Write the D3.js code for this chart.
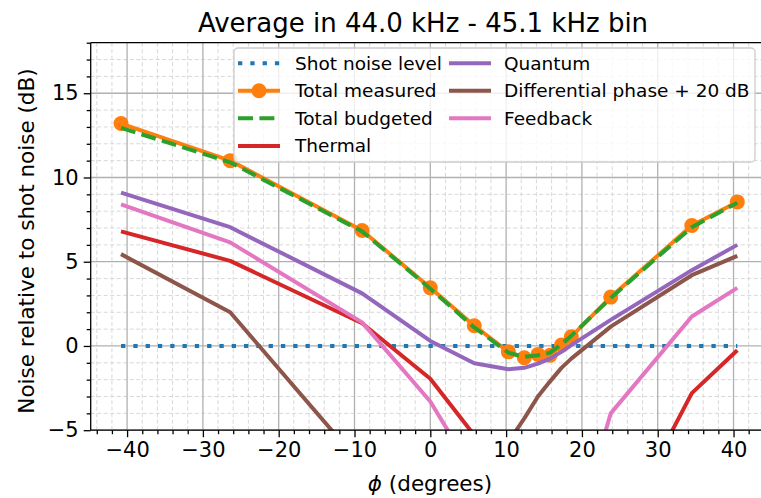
<!DOCTYPE html>
<html><head><meta charset="utf-8">
<script src="https://cdn.jsdelivr.net/npm/d3@7"></script>
<style>body{margin:0;background:#fff}svg{display:block;font-family:"DejaVu Sans",sans-serif}</style>
</head><body><svg id="c" width="761" height="498"></svg>
<script>
const phi = [-40.8, -26.4, -9.0, 0.0, 5.8, 10.3, 12.4, 14.2, 15.8, 17.3, 18.6, 23.8, 34.5, 40.5];
const shotNoise = [0,0,0,0,0,0,0,0,0,0,0,0,0,0];
const totalMeasured = [13.2, 11.0, 6.85, 3.45, 1.2, -0.35, -0.7, -0.5, -0.55, 0.05, 0.55, 2.9, 7.15, 8.55];
const totalBudgeted = [12.95, 10.9, 6.8, 3.4, 1.1, -0.4, -0.65, -0.55, -0.4, 0.1, 0.6, 2.85, 7.05, 8.5];
const thermal = [6.8, 5.05, 1.35, -1.95, -5.3, -14, -16, -17, -17, -16, -15, -12.0, -2.8, -0.25];
const quantum = [9.1, 7.05, 3.12, 0.3, -1.03, -1.38, -1.3, -1.05, -0.75, -0.35, 0.05, 1.55, 4.5, 6.0];
const diffPhase = [5.45, 2.0, -7.1, -10, -8, -5.7, -4.3, -3.0, -2.1, -1.3, -0.75, 1.15, 4.2, 5.35];
const feedback = [8.4, 6.15, 1.4, -3.3, -7.6, -9, -9.5, -10, -10.5, -11, -12, -4.0, 1.75, 3.45];
const xTicks = [-40, -30, -20, -10, 0, 10, 20, 30, 40];
const yTicks = [-5, 0, 5, 10, 15];
const legendLabels = ["Shot noise level", "Total measured", "Total budgeted", "Thermal", "Quantum", "Differential phase + 20 dB", "Feedback"];
const titleText = "Average in 44.0 kHz - 45.1 kHz bin";

const svg = d3.select("#c");
const L = 90.7, R = 768.4, T = 42.7, B = 430.2;
const x = d3.scaleLinear().domain([-44.8, 44.6]).range([L, R]);
const y = d3.scaleLinear().domain([-5, 18]).range([B, T]);
const fmt = d => d < 0 ? "\u2212" + Math.abs(d) : "" + d;

svg.append("defs").append("clipPath").attr("id", "clip")
  .append("rect").attr("x", L).attr("y", T).attr("width", R - L).attr("height", B - T);

// minor grid
const g = svg.append("g");
const xMinor = d3.range(-44, 45, 2).filter(v => v % 10 !== 0);
const yMinor = d3.range(-5, 18.01, 1).filter(v => v % 5 !== 0);
g.selectAll(".xm").data(xMinor).join("line").attr("x1", d => x(d)).attr("x2", d => x(d)).attr("y1", T).attr("y2", B)
  .attr("stroke", "#d8d8d8").attr("stroke-width", 1).attr("stroke-dasharray", "4,2.5");
g.selectAll(".ym").data(yMinor).join("line").attr("y1", d => y(d)).attr("y2", d => y(d)).attr("x1", L).attr("x2", R)
  .attr("stroke", "#d8d8d8").attr("stroke-width", 1).attr("stroke-dasharray", "4,2.5");
// major grid
g.selectAll(".xM").data(xTicks).join("line").attr("x1", d => x(d)).attr("x2", d => x(d)).attr("y1", T).attr("y2", B)
  .attr("stroke", "#b0b0b0").attr("stroke-width", 1.3);
g.selectAll(".yM").data(yTicks).join("line").attr("y1", d => y(d)).attr("y2", d => y(d)).attr("x1", L).attr("x2", R)
  .attr("stroke", "#b0b0b0").attr("stroke-width", 1.3);

// series
const series = [
  {v: shotNoise, c: "#1f77b4", dash: "4.3,8"},
  {v: totalMeasured, c: "#ff7f0e", dash: null, marker: true},
  {v: totalBudgeted, c: "#2ca02c", dash: "15,6.4"},
  {v: thermal, c: "#d62728"},
  {v: quantum, c: "#9467bd"},
  {v: diffPhase, c: "#8c564b"},
  {v: feedback, c: "#e377c2"}
];
const line = d3.line().x((d, i) => x(phi[i])).y(d => y(d));
const plot = svg.append("g").attr("clip-path", "url(#clip)");
series.forEach(s => {
  plot.append("path").datum(s.v).attr("d", line).attr("fill", "none").attr("stroke", s.c)
    .attr("stroke-width", 4).attr("stroke-dasharray", s.dash).attr("stroke-linejoin", "round");
  if (s.marker) {
    plot.selectAll(null).data(s.v).join("circle").attr("cx", (d, i) => x(phi[i])).attr("cy", d => y(d))
      .attr("r", 7.5).attr("fill", s.c);
  }
});

// spines
svg.append("line").attr("x1", L).attr("x2", L).attr("y1", T).attr("y2", B).attr("stroke", "#000").attr("stroke-width", 1.3);
svg.append("line").attr("x1", L).attr("x2", R).attr("y1", B).attr("y2", B).attr("stroke", "#000").attr("stroke-width", 1.3);
svg.append("line").attr("x1", L).attr("x2", R).attr("y1", T).attr("y2", T).attr("stroke", "#000").attr("stroke-width", 1.3);
svg.append("line").attr("x1", R).attr("x2", R).attr("y1", T).attr("y2", B).attr("stroke", "#000").attr("stroke-width", 1.3);

// axes
const xAxis = d3.axisBottom(x).tickValues(xTicks).tickFormat(fmt).tickSize(7).tickPadding(5);
svg.append("g").attr("transform", `translate(0,${B})`).call(xAxis);
const xAxisMinor = d3.axisBottom(x).tickValues(xMinor).tickFormat("").tickSize(4);
svg.append("g").attr("transform", `translate(0,${B})`).call(xAxisMinor);
const yAxis = d3.axisLeft(y).tickValues(yTicks).tickFormat(fmt).tickSize(7).tickPadding(5);
svg.append("g").attr("transform", `translate(${L},0)`).call(yAxis);
const yAxisMinor = d3.axisLeft(y).tickValues(yMinor).tickFormat("").tickSize(4);
svg.append("g").attr("transform", `translate(${L},0)`).call(yAxisMinor);
svg.selectAll(".domain").remove();
svg.selectAll(".tick line").attr("stroke", "#000").attr("stroke-width", 1.3);
svg.selectAll(".tick text").attr("font-family", "DejaVu Sans").attr("font-size", 21).attr("fill", "#000");

// labels
svg.append("text").attr("x", 423).attr("y", 31.5).attr("text-anchor", "middle")
  .attr("font-size", 26).attr("fill", "#000").text(titleText);
const xl = svg.append("text").attr("x", 430).attr("y", 491).attr("text-anchor", "middle").attr("font-size", 21.5).attr("fill", "#000");
xl.append("tspan").attr("font-style", "italic").text("\u03D5");
xl.append("tspan").text(" (degrees)");
svg.append("text").attr("transform", "translate(34,241) rotate(-90)").attr("text-anchor", "middle")
  .attr("font-size", 21.5).attr("fill", "#000").text("Noise relative to shot noise (dB)");

// legend
const lg = svg.append("g");
lg.append("rect").attr("x", 234).attr("y", 48).attr("width", 521).attr("height", 114).attr("rx", 4)
  .attr("fill", "#fff").attr("fill-opacity", 0.8).attr("stroke", "#cccccc").attr("stroke-width", 1.3);
const rowsY = [63.3, 90.7, 118.3, 146];
legendLabels.forEach((lab, i) => {
  const col = i < 4 ? 0 : 1, row = i < 4 ? i : i - 4;
  const hx = col === 0 ? 238 : 449, tx = col === 0 ? 295 : 504, yy = rowsY[row];
  const s = series[i];
  lg.append("line").attr("x1", hx).attr("x2", hx + 42).attr("y1", yy).attr("y2", yy)
    .attr("stroke", s.c).attr("stroke-width", 4).attr("stroke-dasharray", s.dash);
  if (s.marker) lg.append("circle").attr("cx", hx + 21).attr("cy", yy).attr("r", 7.5).attr("fill", s.c);
  lg.append("text").attr("x", tx).attr("y", yy).attr("dy", "0.35em").attr("font-size", 18.5).attr("fill", "#000").text(lab);
});
</script></body></html>
